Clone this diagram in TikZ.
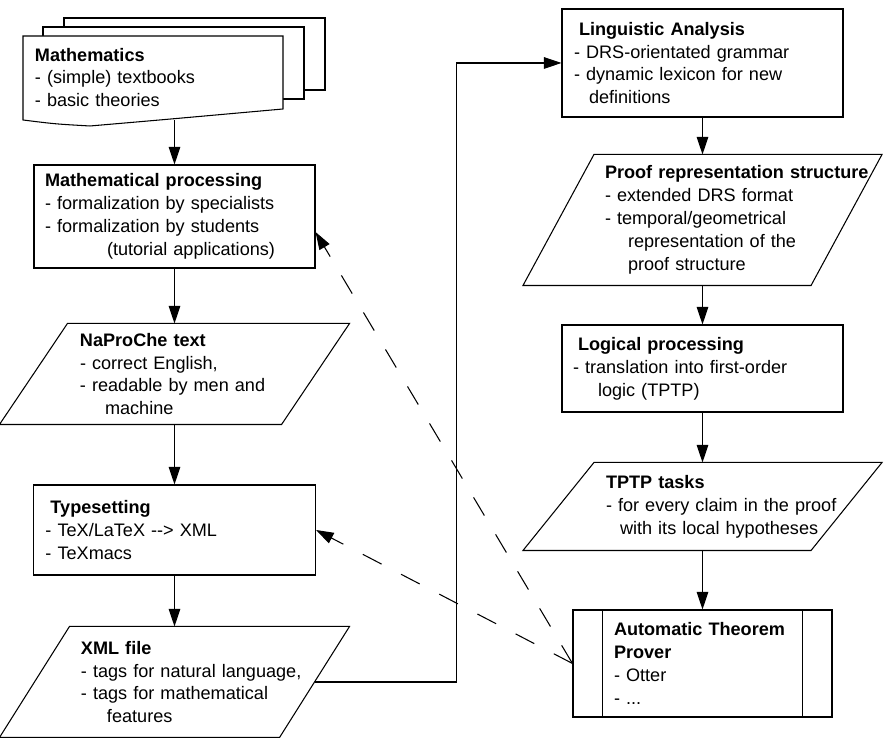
\documentclass[tikz,border=0pt]{standalone}
\usepackage{fontspec}
\setmainfont{Liberation Sans}
\usetikzlibrary{arrows.meta,calc}
\tikzset{
  txt/.style={inner sep=0pt, align=left, font=\fontsize{10.3}{13}\selectfont},
  block/.style={txt, draw},
  inset/.style={execute at begin node={\leftskip=#1}},
  arr/.style={-{Triangle[length=10pt,width=6.6pt]}},
  dasharr/.style={arr, dash pattern=on 12pt off 12.5pt},
}
\begin{document}
\begin{tikzpicture}[line width=0.6pt]
          \useasboundingbox (0,0) rectangle (17.8,14.76);

          \draw[fill=white] (1.28,12.96) rectangle (6.5,14.4);
          \draw[fill=white] (0.86,12.78) rectangle (6.08,14.22);
          \draw[fill=white] (0.46,12.36) -- (0.46,14.04) -- (5.66,14.04) -- (5.66,12.58)
               .. controls (3.2,12.36) .. (1.8,12.24) .. controls (1.1,12.28) .. (0.46,12.36) -- cycle;

          \node[txt, text width=5.2cm, minimum height=1.66cm, inset=0.24cm] (math) at (3.06,13.21)
               {\textbf{Mathematics}\\- (simple) textbooks\\- basic theories};
          \node[block, text width=5.62cm, minimum height=2.06cm, inset=0.22cm] (mproc) at (3.49,10.43)
               {\textbf{Mathematical processing}\\- formalization by specialists\\- formalization by students\\\hspace*{1.24cm}(tutorial applications)};
          \node[txt, text width=6.98cm, minimum height=2cm, inset=1.6cm] (nap) at (3.49,7.28)
               {\textbf{NaProChe text}\\- correct English,\\- readable by men and\\\hspace*{0.5cm}machine};
          \node[block, text width=5.64cm, minimum height=1.8cm, inset=0.24cm] (types) at (3.49,4.16)
               {\hspace*{0.1cm}\textbf{Typesetting}\\- TeX/LaTeX -{}-> XML\\- TeXmacs};
          \node[txt, text width=6.98cm, minimum height=2.2cm, inset=1.62cm] (xml) at (3.49,1.12)
               {\textbf{XML file}\\- tags for natural language,\\- tags for mathematical\\\hspace*{0.52cm}features};

          \node[block, text width=5.62cm, minimum height=2.16cm, inset=0.24cm] (ling) at (14.05,13.5)
               {\hspace*{0.1cm}\textbf{Linguistic Analysis}\\- DRS-orientated grammar\\- dynamic lexicon for new\\\hspace*{0.3cm}definitions};
          \node[txt, text width=7.16cm, minimum height=2.6cm, inset=1.63cm] (prs) at (14.05,10.36)
               {\textbf{Proof representation structure}\\- extended DRS format\\- temporal/geometrical\\\hspace*{0.46cm}representation of the\\\hspace*{0.46cm}proof structure};
          \node[block, text width=5.62cm, minimum height=1.74cm, inset=0.22cm] (logic) at (14.05,7.39)
               {\hspace*{0.1cm}\textbf{Logical processing}\\- translation into first-order\\\hspace*{0.5cm}logic (TPTP)};
          \node[txt, text width=7.16cm, minimum height=1.74cm, inset=1.65cm] (tptp) at (14.05,4.63)
               {\textbf{TPTP tasks}\\- for every claim in the proof\\\hspace*{0.28cm}with its local hypotheses};
          \node[block, text width=5.18cm, minimum height=2.14cm, inset=0.82cm] (atp) at (14.05,1.49)
               {\textbf{Automatic Theorem}\\\textbf{Prover}\\- Otter\\- ...};

          \foreach \n/\o in {nap/1.36,xml/1.4,prs/1.42,tptp/1.42}
               \draw ($(\n.north west)+(\o,0)$) -- (\n.north east) -- ($(\n.south east)-(\o,0)$) -- (\n.south west) -- cycle;
          \draw ($(atp.north west)+(0.6,0)$) -- ($(atp.south west)+(0.6,0)$);
          \draw ($(atp.north east)-(0.6,0)$) -- ($(atp.south east)-(0.6,0)$);

          \coordinate (xmlout) at ($(xml.east)+(-0.7,0)$);

          \draw[arr] (math.south -| mproc.north) -- (mproc.north);
          \draw[arr] (mproc.south) -- (nap.north);
          \draw[arr] (nap.south) -- (types.north);
          \draw[arr] (types.south) -- (xml.north);
          \draw[arr] (xmlout) -- ++(2.84,0) |- (ling.west);
          \draw[arr] (ling.south) -- (prs.north);
          \draw[arr] (prs.south) -- (logic.north);
          \draw[arr] (logic.south) -- (tptp.north);
          \draw[arr] (tptp.south) -- (atp.north);
          \draw[dasharr] (atp.west) -- ([yshift=-0.31cm]mproc.east);
          \draw[dasharr] (atp.west) -- (types.east);
\end{tikzpicture}
\end{document}
